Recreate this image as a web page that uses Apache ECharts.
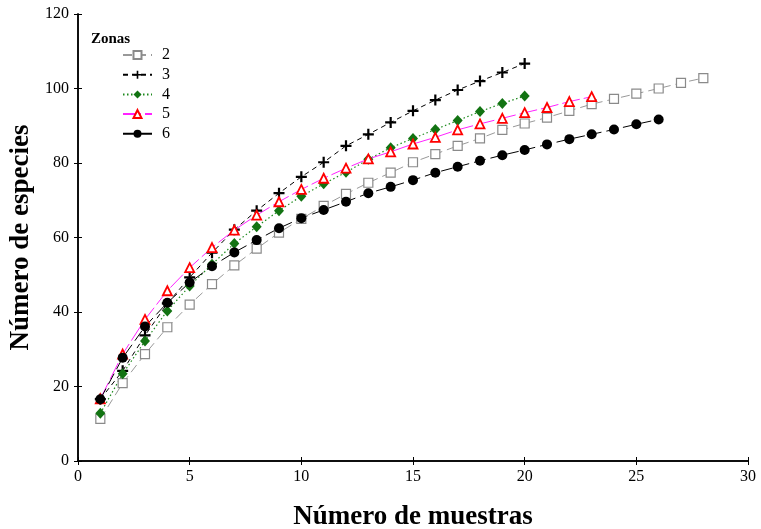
<!DOCTYPE html>
<html>
<head>
<meta charset="utf-8">
<script src="https://cdn.jsdelivr.net/npm/echarts@6/dist/echarts.min.js"></script>
<style>
  html, body { margin: 0; padding: 0; background: #fff; }
  #chart { width: 761px; height: 529px; }
</style>
</head>
<body>
<div id="chart"></div>
<script>
// --- datos ---
const zonas = ['2', '3', '4', '5', '6'];
const zona2 = [11.3, 20.9, 28.7, 35.9, 42.0, 47.5, 52.5, 57.0, 61.3, 65.0, 68.5, 71.7, 74.7, 77.4, 80.2, 82.4, 84.6, 86.6, 88.9, 90.6, 92.2, 94.0, 95.8, 97.2, 98.6, 100.0, 101.5, 102.8];
const zona3 = [16.6, 24.2, 33.7, 42.3, 49.3, 55.9, 62.1, 67.2, 71.9, 76.3, 80.2, 84.6, 87.7, 90.9, 94.0, 96.9, 99.6, 102.0, 104.3, 106.7];
const zona4 = [12.8, 23.4, 32.2, 40.3, 47.0, 52.8, 58.4, 62.9, 67.2, 71.1, 74.4, 77.5, 81.0, 84.1, 86.6, 89.0, 91.4, 93.8, 96.0, 98.0];
const zona5 = [16.7, 28.7, 38.0, 45.7, 51.9, 57.3, 62.0, 66.0, 69.6, 72.9, 75.9, 78.6, 81.1, 83.0, 85.1, 86.9, 88.9, 90.5, 92.0, 93.5, 94.9, 96.5, 97.8];
const zona6 = [16.6, 27.7, 36.1, 42.5, 47.9, 52.3, 56.0, 59.3, 62.5, 65.2, 67.4, 69.6, 71.9, 73.6, 75.4, 77.4, 79.0, 80.6, 82.1, 83.5, 85.0, 86.4, 87.7, 89.0, 90.4, 91.7];

const FONT = '"Liberation Serif", "DejaVu Serif", serif';
const PLUS = 'path://M4,0 L6,0 L6,4 L10,4 L10,6 L6,6 L6,10 L4,10 L4,6 L0,6 L0,4 L4,4 Z';

// [muestra, especies]
const toPairs = arr => arr.map((v, i) => [i + 1, v]);

const chart = echarts.init(document.getElementById('chart'));

const axisCommon = {
    type: 'value',
    axisLine: { show: true, lineStyle: { color: '#000', width: 1.5 } },
    axisTick: { show: true, inside: true, length: 4, lineStyle: { color: '#000' } },
    splitLine: { show: false }
};

const option = {
    animation: false,
    backgroundColor: '#fff',
    title: {
        text: 'Zonas',
        left: 86, top: 27,
        textStyle: { fontFamily: FONT, fontSize: 15, fontWeight: 'bold', color: '#000' }
    },
    legend: {
        data: zonas,
        orient: 'vertical',
        left: 117, top: 42,
        itemWidth: 29, itemHeight: 10, itemGap: 3.7,
        textStyle: { fontFamily: FONT, fontSize: 16, color: '#000', padding: [0, 0, 0, 5] }
    },
    grid: { left: 78, right: 13, top: 14, bottom: 68, outerBoundsMode: 'none' },
    xAxis: [
        Object.assign({}, axisCommon, {
            min: 0, max: 30, interval: 5,
            name: 'Número de muestras',
            nameLocation: 'middle', nameGap: 43,
            nameTextStyle: { fontFamily: FONT, fontSize: 27, fontWeight: 'bold', color: '#000' },
            axisLabel: { fontFamily: FONT, fontSize: 16, color: '#000', margin: 8 }
        }),
        Object.assign({}, axisCommon, {
            position: 'top', min: 0, max: 30, interval: 5,
            axisLabel: { show: false }
        })
    ],
    yAxis: [
        Object.assign({}, axisCommon, {
            min: 0, max: 120, interval: 20,
            name: 'Número de especies',
            nameLocation: 'middle', nameGap: 35,
            nameTextStyle: { fontFamily: FONT, fontSize: 27, fontWeight: 'bold', color: '#000' },
            axisLabel: { fontFamily: FONT, fontSize: 16, color: '#000', margin: 9 }
        }),
        Object.assign({}, axisCommon, {
            position: 'right', min: 0, max: 120, interval: 20,
            axisLabel: { show: false }
        })
    ],
    series: [
        {
            name: '2', type: 'line', data: toPairs(zona2),
            symbol: 'rect', symbolSize: 9,
            lineStyle: { color: '#999', width: 1, type: [9, 5] },
            itemStyle: { color: '#fff', borderColor: '#8a8a8a', borderWidth: 1.2 }
        },
        {
            name: '3', type: 'line', data: toPairs(zona3),
            symbol: PLUS, symbolSize: 11,
            lineStyle: { color: '#000', width: 1, type: [5, 4] },
            itemStyle: { color: '#000' }
        },
        {
            name: '4', type: 'line', data: toPairs(zona4),
            symbol: 'diamond', symbolSize: [10, 11],
            lineStyle: { color: '#1e8a1e', width: 1.2, type: [1.5, 2.5] },
            itemStyle: { color: '#127312' }
        },
        {
            name: '5', type: 'line', data: toPairs(zona5),
            symbol: 'triangle', symbolSize: 9,
            lineStyle: { color: '#ff22ff', width: 1, type: [18, 4] },
            itemStyle: { color: '#fff', borderColor: '#ff0000', borderWidth: 1.8 }
        },
        {
            name: '6', type: 'line', data: toPairs(zona6),
            symbol: 'circle', symbolSize: 10,
            lineStyle: { color: '#000', width: 1, type: [12, 5] },
            itemStyle: { color: '#000' }
        }
    ]
};

chart.setOption(option);
</script>
</body>
</html>
